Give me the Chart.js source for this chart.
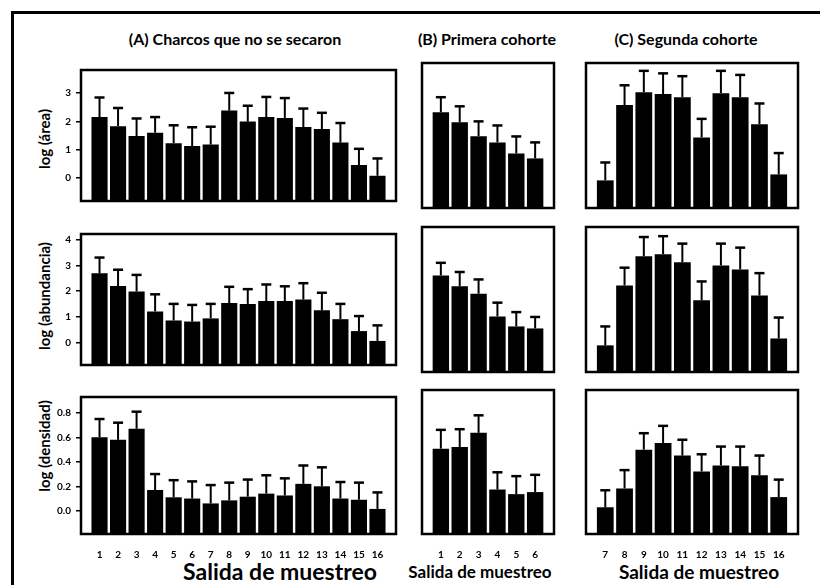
<!DOCTYPE html>
<html><head><meta charset="utf-8">
<script src="https://cdn.jsdelivr.net/npm/chart.js@4.4.1/dist/chart.umd.min.js"></script>
<style>
body{margin:0;background:#fff;width:820px;height:585px;overflow:hidden;position:relative;font-family:Lato,sans-serif;color:#000}
#frame{position:absolute;left:11px;top:11px;width:830px;height:600px;border-top:3px solid #000;border-left:3px solid #000}
canvas{position:absolute}
.hdr{position:absolute;font:bold 16px Lato;transform:translate(-50%,-50%);white-space:nowrap}
.xt{position:absolute;font:bold 20px Lato;transform:translate(-50%,-50%);white-space:nowrap}
.yt{position:absolute;font:bold 15px Lato;transform:translate(-50%,-50%) rotate(-90deg);white-space:nowrap}
</style></head>
<body>
<div id="frame"></div>
<div class="hdr" style="left:235px;top:38px">(A) Charcos que no se secaron</div>
<div class="hdr" style="left:487px;top:38px">(B) Primera cohorte</div>
<div class="hdr" style="left:686px;top:38px">(C) Segunda cohorte</div>
<div class="yt" style="left:44px;top:139px">log (área)</div>
<div class="yt" style="left:44px;top:296px">log (abundancia)</div>
<div class="yt" style="left:44px;top:446px">log (densidad)</div>
<div class="xt" style="left:280px;top:571px;font-size:23px">Salida de muestreo</div>
<div class="xt" style="left:480px;top:571px;font-size:17px">Salida de muestreo</div>
<div class="xt" style="left:699px;top:571px;font-size:19px">Salida de muestreo</div>
<script>
// ---- categories (sampling trips) ----
const salidasA = [1,2,3,4,5,6,7,8,9,10,11,12,13,14,15,16];
const salidasB = [1,2,3,4,5,6];
const salidasC = [7,8,9,10,11,12,13,14,15,16];

// ---- tick labels ----
const yTicksArea  = [0,1,2,3];
const yTicksAbund = [0,1,2,3,4];
const yTicksDens  = [0,0.2,0.4,0.6,0.8];

// ---- log (área): means and error (upper SE) ----
const areaA    = [2.15,1.83,1.48,1.60,1.23,1.13,1.18,2.38,1.99,2.15,2.12,1.80,1.73,1.25,0.46,0.08];
const areaAse  = [0.69,0.64,0.62,0.55,0.63,0.66,0.63,0.62,0.56,0.71,0.70,0.65,0.57,0.69,0.57,0.61];
const areaB    = [2.24,1.92,1.48,1.28,0.93,0.77];
const areaBse  = [0.48,0.51,0.47,0.54,0.54,0.51];
const areaC    = [0.07,2.47,2.88,2.82,2.72,1.44,2.85,2.72,1.86,0.26];
const areaCse  = [0.57,0.63,0.68,0.66,0.67,0.59,0.71,0.71,0.66,0.68];

// ---- log (abundancia) ----
const abundA   = [2.69,2.20,1.99,1.22,0.87,0.83,0.95,1.54,1.51,1.62,1.62,1.68,1.26,0.92,0.46,0.08];
const abundAse = [0.61,0.63,0.64,0.66,0.64,0.64,0.56,0.63,0.57,0.64,0.57,0.63,0.68,0.59,0.58,0.60];
const abundB   = [2.52,2.14,1.88,1.09,0.74,0.67];
const abundBse = [0.44,0.50,0.50,0.48,0.50,0.40];
const abundC   = [0.08,2.17,3.19,3.26,2.98,1.65,2.87,2.73,1.82,0.32];
const abundCse = [0.66,0.62,0.67,0.63,0.65,0.66,0.76,0.76,0.78,0.73];

// ---- log (densidad) ----
const densA    = [0.60,0.58,0.67,0.17,0.11,0.10,0.06,0.085,0.115,0.14,0.125,0.22,0.20,0.10,0.09,0.015];
const densAse  = [0.15,0.14,0.14,0.13,0.14,0.14,0.15,0.145,0.14,0.15,0.14,0.15,0.155,0.135,0.14,0.135];
const densB    = [0.474,0.487,0.597,0.156,0.12,0.136];
const densBse  = [0.146,0.138,0.136,0.134,0.14,0.134];
const densC    = [0.018,0.164,0.466,0.518,0.42,0.297,0.343,0.336,0.266,0.097];
const densCse  = [0.132,0.143,0.128,0.133,0.123,0.133,0.147,0.154,0.154,0.136];

// ---- layout (pixel boxes of the plot areas) ----
const rowsLayout = [
  {top:63,  bottom:208, min:-0.81, max:3.81, ticks:yTicksArea,  fmt:v=>String(v)},
  {top:227, bottom:372, min:-0.85, max:4.21, ticks:yTicksAbund, fmt:v=>String(v)},
  {top:390, bottom:534, min:-0.19, max:0.93, ticks:yTicksDens,  fmt:v=>v.toFixed(1)}
];
const colsLayout = [
  {left:81,  right:396, cats:salidasA},
  {left:422, right:554, cats:salidasB},
  {left:586, right:798, cats:salidasC}
];
const panelData = [
  [[areaA,areaAse],[areaB,areaBse],[areaC,areaCse]],
  [[abundA,abundAse],[abundB,abundBse],[abundC,abundCse]],
  [[densA,densAse],[densB,densBse],[densC,densCse]]
];

const errorBars = {
  id:'errorBars',
  afterDatasetsDraw(chart){
    const ctx = chart.ctx, ys = chart.scales.y;
    const ds = chart.data.datasets[0];
    const meta = chart.getDatasetMeta(0);
    ctx.save();
    ctx.strokeStyle = '#000';
    meta.data.forEach((bar,i)=>{
      const v = ds.data[i].y;
      const yTop = ys.getPixelForValue(v + ds.se[i]);
      ctx.lineWidth = 2;
      ctx.beginPath(); ctx.moveTo(bar.x, bar.y); ctx.lineTo(bar.x, yTop); ctx.stroke();
      ctx.lineWidth = 2.5;
      ctx.beginPath(); ctx.moveTo(bar.x-5, yTop); ctx.lineTo(bar.x+5, yTop); ctx.stroke();
    });
    ctx.restore();
  }
};
const boxFrame = {
  id:'boxFrame',
  afterDraw(chart){
    const {left,top,right,bottom} = chart.chartArea, ctx = chart.ctx;
    ctx.save(); ctx.strokeStyle='#000'; ctx.lineWidth=2.5;
    ctx.strokeRect(left,top,right-left,bottom-top); ctx.restore();
  }
};

const PAD = 4, XAXIS_H = 30, AXIS_LEFT = 28;
rowsLayout.forEach((row,r)=>{
  colsLayout.forEach((col,c)=>{
    const [vals,se] = panelData[r][c];
    const cats = col.cats;
    const showY = c===0, showX = r===2;
    const cLeft = showY ? AXIS_LEFT : col.left-PAD;
    const cTop = row.top-PAD;
    const w = col.right+PAD-cLeft;
    const h = (row.bottom-row.top) + PAD + (showX ? XAXIS_H : PAD);
    const cv = document.createElement('canvas');
    cv.width = w; cv.height = h;
    cv.style.left = cLeft+'px'; cv.style.top = cTop+'px';
    cv.style.width = w+'px'; cv.style.height = h+'px';
    document.body.appendChild(cv);
    new Chart(cv,{
      type:'bar',
      data:{datasets:[{
        data: cats.map((k,i)=>({x:k,y:vals[i]})),
        se: se,
        backgroundColor:'#000',
        borderWidth:0,
        base: row.min,
        barPercentage:0.87,
        categoryPercentage:1
      }]},
      options:{
        responsive:false, animation:false, devicePixelRatio:1,
        layout:{padding:{left:showY?0:PAD,right:PAD,top:PAD,bottom:showX?0:PAD}},
        plugins:{legend:{display:false},tooltip:{enabled:false}},
        scales:{
          x:{
            type:'linear', offset:false, min:cats[0]-1, max:cats[cats.length-1]+1,
            display:showX,
            grid:{display:false,drawTicks:false,offset:false},
            border:{display:false},
            afterBuildTicks(s){ s.ticks = cats.map(v=>({value:v})); },
            afterFit(s){ if(showX) s.height = XAXIS_H; },
            ticks:{font:{family:'Lato',weight:'bold',size:10},color:'#000',padding:15,maxRotation:0,autoSkip:false,
              callback:v=>String(v)}
          },
          y:{
            type:'linear', min:row.min, max:row.max,
            display:showY,
            afterBuildTicks(s){ s.ticks = row.ticks.map(v=>({value:v})); },
            afterFit(s){ if(showY) s.width = col.left-AXIS_LEFT; },
            grid:{display:true,drawOnChartArea:false,drawTicks:true,tickLength:5,color:'#000',lineWidth:1.5},
            border:{display:false},
            ticks:{font:{family:'Lato',weight:'bold',size:10},color:'#000',padding:5,callback:v=>row.fmt(v)}
          }
        }
      },
      plugins:[errorBars,boxFrame]
    });
  });
});
</script>
</body></html>
